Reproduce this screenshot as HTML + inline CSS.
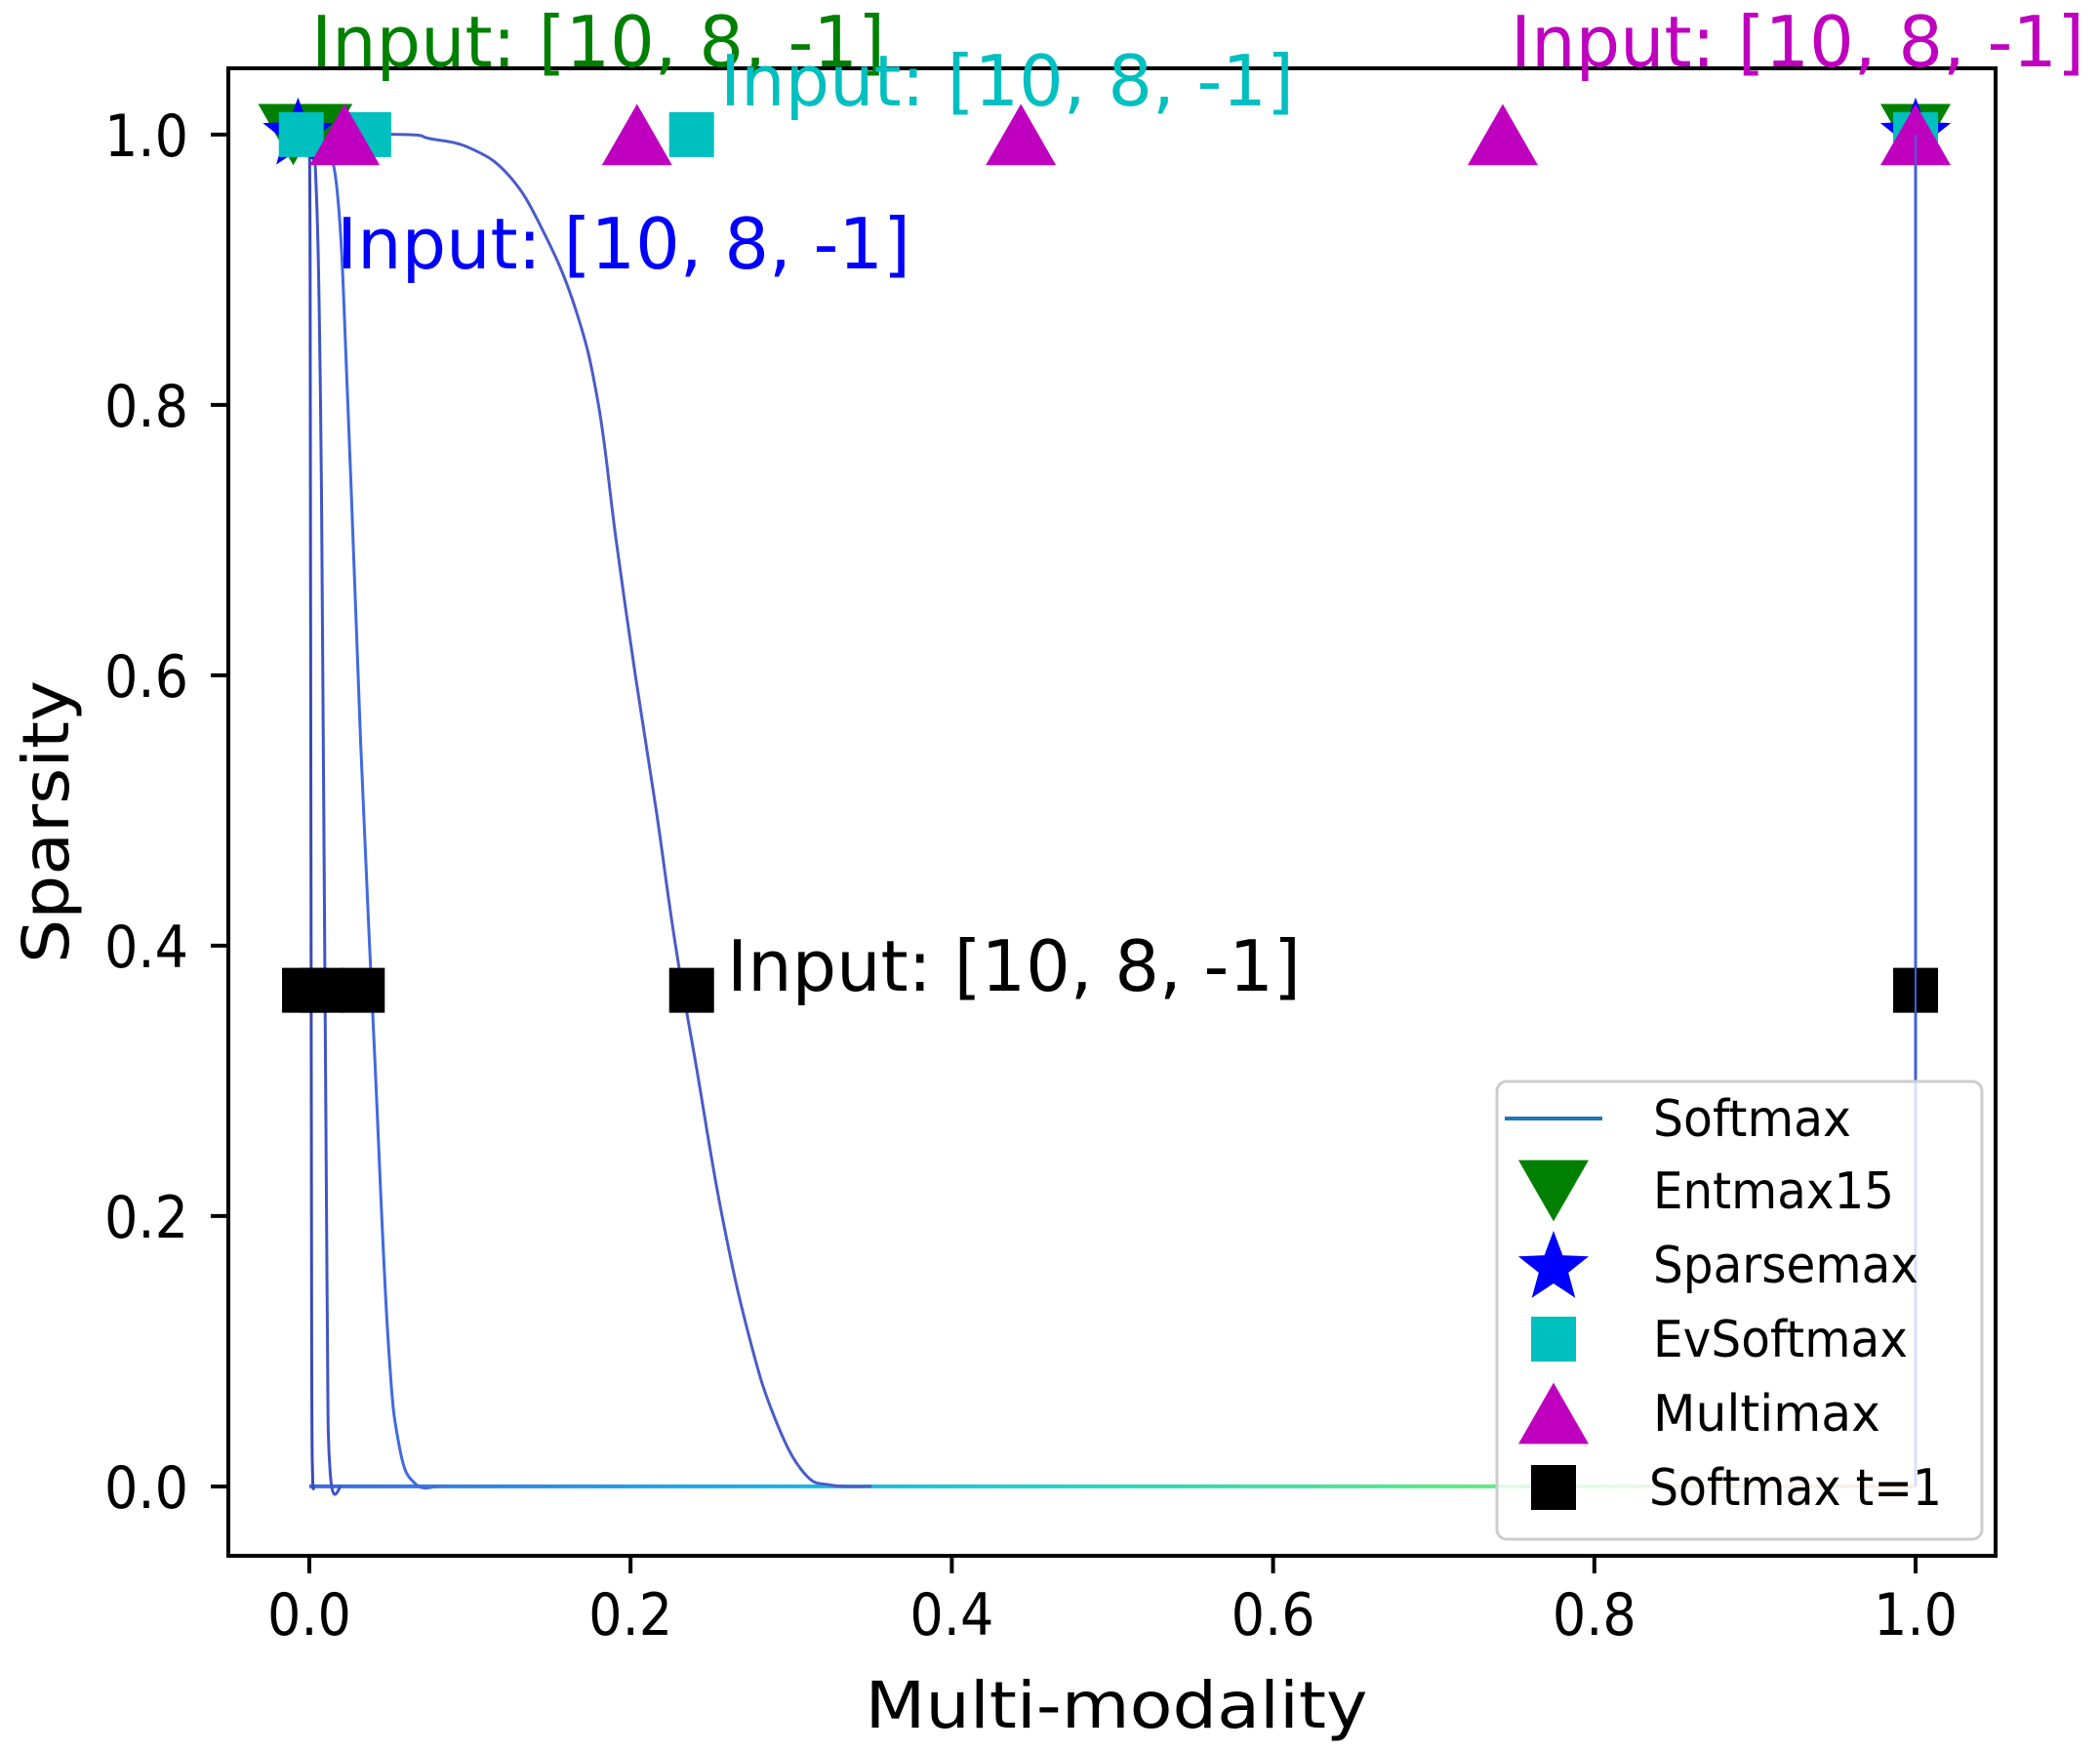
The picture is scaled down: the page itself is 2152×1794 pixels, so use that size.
<!DOCTYPE html>
<html><head><meta charset="utf-8"><style>
html,body{margin:0;padding:0;background:#fff;}
svg{display:block;font-family:"DejaVu Sans","Liberation Sans",sans-serif;}
</style></head><body>
<svg id="chart" width="2152" height="1794" viewBox="0 0 2152 1794" xmlns="http://www.w3.org/2000/svg">
<defs>
<linearGradient id="hgrad" gradientUnits="userSpaceOnUse" x1="317" y1="0" x2="1963" y2="0">
<stop offset="0" stop-color="#4169e1"/><stop offset="0.25" stop-color="#1ea8e8"/><stop offset="0.45" stop-color="#20d0c8"/><stop offset="0.8" stop-color="#70f070"/><stop offset="0.92" stop-color="#f0c090"/><stop offset="1" stop-color="#f0a070"/>
</linearGradient>
<clipPath id="plotclip"><rect x="234" y="70" width="1811" height="1524"/></clipPath>
</defs>
<g id="plot" clip-path="url(#plotclip)"></g>
<g id="axes"></g>
<g id="annots"></g>
<g id="legend"></g>
</svg>
<script>
// axis domain
const xDomain = [-0.0504, 1.0498];
const yDomain = [-0.0513, 1.049];
const xTicks = [0.0, 0.2, 0.4, 0.6, 0.8, 1.0];
const yTicks = [0.0, 0.2, 0.4, 0.6, 0.8, 1.0];
// softmax curves (x, y)
const curve1X = [0.0, 0.0005, 0.001, 0.0015, 0.002, 0.003];
const curve1Y = [1.0, 0.9, 0.5, 0.1, 0.01, 0.0];
const curve2X = [0.0, 0.004, 0.007, 0.009, 0.011, 0.013, 0.02];
const curve2Y = [1.0, 0.97, 0.8, 0.5, 0.15, 0.01, 0.0];
const curve3X = [0.0, 0.01, 0.018, 0.024, 0.032, 0.041, 0.049, 0.056, 0.066, 0.08];
const curve3Y = [1.0, 0.99, 0.95, 0.8, 0.55, 0.31, 0.11, 0.03, 0.002, 0.0];
const curve4X = [0.0, 0.06, 0.075, 0.1, 0.124, 0.145, 0.166, 0.18, 0.191, 0.203, 0.216, 0.228, 0.241, 0.257, 0.274, 0.29, 0.308, 0.325, 0.35];
const curve4Y = [1.0, 1.0, 0.997, 0.99, 0.97, 0.93, 0.87, 0.8, 0.7, 0.6, 0.5, 0.4, 0.31, 0.2, 0.11, 0.05, 0.01, 0.001, 0.0];
const baseX = [0.0, 1.0];
const baseY = [0.0, 0.0];
const vertX = [1.0, 1.0];
const vertY = [0.0, 1.0];
// markers
const entmaxX = [-0.01, 0.005, 1.0];
const entmaxY = [1.0, 1.0, 1.0];
const sparseX = [-0.007, 1.0];
const sparseY = [1.0, 1.0];
const evX = [-0.005, 0.037, 0.238, 1.0];
const evY = [1.0, 1.0, 1.0, 1.0];
const multiX = [0.022, 0.204, 0.443, 0.743, 1.0];
const multiY = [1.0, 1.0, 1.0, 1.0, 1.0];
const softT1X = [-0.003, 0.008, 0.033, 0.238, 1.0];
const softT1Y = [0.367, 0.367, 0.367, 0.367, 0.367];
const legendLabels = ["Softmax","Entmax15","Sparsemax","EvSoftmax","Multimax","Softmax t=1"];

const NS = "http://www.w3.org/2000/svg";
const X0=234, X1=2045, Y0=1594, Y1=70;
function sx(v){return X0+(v-xDomain[0])/(xDomain[1]-xDomain[0])*(X1-X0);}
function sy(v){return Y0-(v-yDomain[0])/(yDomain[1]-yDomain[0])*(Y0-Y1);}
function mk(tag, attrs, parent){const e=document.createElementNS(NS,tag);for(const k in attrs)e.setAttribute(k,attrs[k]);parent.appendChild(e);return e;}
const plot=document.getElementById('plot'), axes=document.getElementById('axes'), annots=document.getElementById('annots'), legend=document.getElementById('legend');

function smoothPath(xs, ys){
  const P=xs.map((x,i)=>[sx(x),sy(ys[i])]);
  let d='M'+P[0][0].toFixed(1)+','+P[0][1].toFixed(1);
  for(let i=0;i<P.length-1;i++){
    const p0=P[Math.max(0,i-1)],p1=P[i],p2=P[i+1],p3=P[Math.min(P.length-1,i+2)];
    const t=0.2;
    const c1=[p1[0]+(p2[0]-p0[0])*t,p1[1]+(p2[1]-p0[1])*t];
    const c2=[p2[0]-(p3[0]-p1[0])*t,p2[1]-(p3[1]-p1[1])*t];
    d+='C'+c1.map(v=>v.toFixed(1)).join(',')+' '+c2.map(v=>v.toFixed(1)).join(',')+' '+p2[0].toFixed(1)+','+p2[1].toFixed(1);
  }
  return d;
}
function line(xs, ys, stroke, w, name){
  const p=mk('path',{d:smoothPath(xs,ys),fill:'none',stroke:stroke,'stroke-width':w,'stroke-linejoin':'round'},plot);
  
  
}
line(baseX, baseY, 'url(#hgrad)', 4, 'softmax-baseline');
line(curve4X, curve4Y, '#4a5cc8', 3, 'softmax-curve-4');
line(curve3X, curve3Y, '#4169e1', 3, 'softmax-curve-3');
line(curve2X, curve2Y, '#3f55c8', 3, 'softmax-curve-2');
line(curve1X, curve1Y, '#3a4ab8', 3, 'softmax-curve-1');
line(vertX, vertY, '#4060d8', 3, 'softmax-curve-right');

function tri(cx,cy,s,down,fill,parent){
  const h=s*0.87, pts = down ? [[cx-s/2,cy-h/2],[cx+s/2,cy-h/2],[cx,cy+h/2]] : [[cx-s/2,cy+h/2],[cx+s/2,cy+h/2],[cx,cy-h/2]];
  return mk('polygon',{points:pts.map(p=>p.join(',')).join(' '),fill:fill},parent);
}
function star(cx,cy,r,fill,parent){
  let pts=[];for(let i=0;i<10;i++){const a=-Math.PI/2+i*Math.PI/5;const rr=i%2?r*0.42:r;pts.push((cx+rr*Math.cos(a)).toFixed(1)+','+(cy+rr*Math.sin(a)).toFixed(1));}
  return mk('polygon',{points:pts.join(' '),fill:fill},parent);
}
function sq(cx,cy,s,fill,parent){return mk('rect',{x:cx-s/2,y:cy-s/2,width:s,height:s,fill:fill},parent);}

entmaxX.forEach((x,i)=>{const e=tri(sx(x),sy(entmaxY[i]),72,true,'#008000',plot);
  
  });
sparseX.forEach((x,i)=>{const e=star(sx(x),sy(sparseY[i]),38,'#0000ff',plot);
  
  });
evX.forEach((x,i)=>{const e=sq(sx(x),sy(evY[i]),46,'#00bfbf',plot);
  
  });
multiX.forEach((x,i)=>{const e=tri(sx(x),sy(multiY[i]),72,false,'#bf00bf',plot);
  
  });
softT1X.forEach((x,i)=>{const e=sq(sx(x),sy(softT1Y[i]),46,'#000000',plot);
  
  });
line([1.0,1.0],[0.0,1.0],'#4060d8',2,'softmax-curve-right-overlay');

// axes frame
const fr=mk('rect',{x:X0,y:Y1,width:X1-X0,height:Y0-Y1,fill:'none',stroke:'#000','stroke-width':4},axes);


xTicks.forEach(t=>{
  const x=sx(t);
  const tk=mk('line',{x1:x,y1:Y0,x2:x,y2:Y0+18,stroke:'#000','stroke-width':4},axes);
  
  
  const tx=mk('text',{x:x,y:1675,'font-size':60,'text-anchor':'middle',textLength:86,lengthAdjust:'spacingAndGlyphs',fill:'#000'},axes);
  tx.textContent=t.toFixed(1);
  
  
});
yTicks.forEach(t=>{
  const y=sy(t);
  const tk=mk('line',{x1:X0-18,y1:y,x2:X0,y2:y,stroke:'#000','stroke-width':4},axes);
  
  
  const tx=mk('text',{x:193,y:y+22,'font-size':60,'text-anchor':'end',textLength:86,lengthAdjust:'spacingAndGlyphs',fill:'#000'},axes);
  tx.textContent=t.toFixed(1);
  
  
});
const xl=mk('text',{x:1144,y:1770,'font-size':66,'text-anchor':'middle',textLength:515,lengthAdjust:'spacingAndGlyphs',fill:'#000'},axes);
xl.textContent='Multi-modality';


const yl=mk('text',{x:0,y:0,'font-size':66,'text-anchor':'middle',textLength:290,lengthAdjust:'spacingAndGlyphs',fill:'#000',transform:'translate(70,842) rotate(-90)'},axes);
yl.textContent='Sparsity';



// annotations
const ann=[[319,68,'#008000','annotation-entmax15'],[738,108,'#00bfbf','annotation-evsoftmax'],[1548,68,'#bf00bf','annotation-multimax'],[345,275,'#0000ff','annotation-sparsemax'],[745,1015,'#000000','annotation-softmax-t1']];
ann.forEach(a=>{
  const t=mk('text',{x:a[0],y:a[1],'font-size':72,fill:a[2],textLength:588,lengthAdjust:'spacingAndGlyphs'},annots);
  t.textContent='Input: [10, 8, -1]';
  
  
});

// legend
const lb=mk('rect',{x:1534,y:1108,width:497,height:469,rx:10,fill:'rgba(255,255,255,0.8)',stroke:'#cccccc','stroke-width':3},legend);


const ly=[1146,1220,1296,1372,1448,1524];
const lm=mk('line',{x1:1542,y1:ly[0],x2:1642,y2:ly[0],stroke:'#1f77b4','stroke-width':4},legend);


const m1=tri(1592,ly[1],72,true,'#008000',legend);


const m2=star(1592,ly[2]+3,38,'#0000ff',legend);


const m3=sq(1592,ly[3],46,'#00bfbf',legend);


const m4=tri(1592,ly[4],72,false,'#bf00bf',legend);


const m5=sq(1592,ly[5],46,'#000000',legend);


const lw=[203,247,272,261,233,300];
legendLabels.forEach((s,i)=>{
  const t=mk('text',{x:i==5?1690:1694,y:ly[i]+18,'font-size':52,fill:'#000',textLength:lw[i],lengthAdjust:'spacingAndGlyphs'},legend);
  t.textContent=s;
  
  
});
</script>
</body></html>
